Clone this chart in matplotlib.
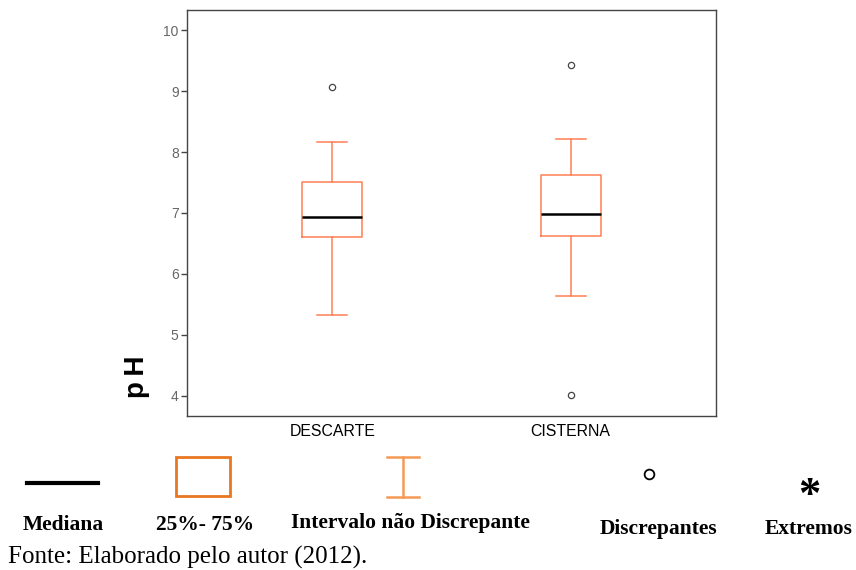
import matplotlib
matplotlib.use("Agg")
import matplotlib.pyplot as plt
from matplotlib.patches import Rectangle
from matplotlib.lines import Line2D

# valores (pH)
categorias = ["DESCARTE", "CISTERNA"]
q1 = [6.60, 6.62]
mediana = [6.93, 6.98]
q3 = [7.51, 7.62]
whisker_baixo = [5.32, 5.64]
whisker_alto = [8.17, 8.21]
discrepantes = [[9.07], [9.43, 4.02]]
y_ticks = [4, 5, 6, 7, 8, 9, 10]

legenda_textos = ["Mediana", "25%- 75%", "Intervalo não Discrepante", "Discrepantes", "Extremos"]
fonte = "Fonte: Elaborado pelo autor (2012)."

cor_caixa = "#FF7F55"


def main():
    fig = plt.figure(figsize=(8.56, 5.70), dpi=100)
    ax = fig.add_axes([187/856, 1-416/570, 529/856, 406/570])

    stats = []
    for i, nome in enumerate(categorias):
        stats.append(dict(label=nome, q1=q1[i], med=mediana[i], q3=q3[i],
                          whislo=whisker_baixo[i], whishi=whisker_alto[i],
                          fliers=discrepantes[i]))

    ax.bxp(stats, positions=[1, 2], widths=0.252, showfliers=True,
           boxprops=dict(color=cor_caixa, linewidth=1.1),
           whiskerprops=dict(color=cor_caixa, linewidth=1.1),
           capprops=dict(color=cor_caixa, linewidth=1.1),
           medianprops=dict(color="black", linewidth=1.8),
           flierprops=dict(marker="o", markersize=4.5, markerfacecolor="white",
                           markeredgecolor="#444444", markeredgewidth=0.9))

    ax.set_xlim(0.39, 2.61)
    ax.set_ylim(3.67, 10.33)
    ax.set_yticks(y_ticks)
    ax.set_yticklabels([str(t) for t in y_ticks], color="#666666",
                       fontsize=10, family="Liberation Sans")
    ax.set_xticks([1, 2])
    ax.set_xticklabels(categorias, fontsize=11.4, family="Liberation Sans")
    ax.tick_params(axis="x", length=0, pad=6)
    ax.tick_params(axis="y", length=4, width=1, color="#444444", pad=2)
    for s in ax.spines.values():
        s.set_color("#444444")
        s.set_linewidth(1.0)

    fig.text(137/856, 1-377/570, "p\u2009H", rotation=90, ha="center", va="center",
             fontsize=20, fontweight="bold", family="Liberation Sans")

    # legenda desenhada à parte, em coordenadas da figura
    W, H = 856, 570
    fig.add_artist(Line2D([27/W, 98/W], [1-483/H, 1-483/H], color="black", lw=3))
    fig.add_artist(Rectangle((176/W, 1-496/H), 54/W, 39/H, fill=False,
                             edgecolor="#E87722", lw=2))
    fig.add_artist(Line2D([403/W, 403/W], [1-457/H, 1-497/H], color="#F59A55", lw=1.8))
    fig.add_artist(Line2D([387/W, 419/W], [1-457/H, 1-457/H], color="#F59A55", lw=1.8))
    fig.add_artist(Line2D([387/W, 419/W], [1-497/H, 1-497/H], color="#F59A55", lw=1.8))
    fig.add_artist(Line2D([649/W], [1-474/H], marker="o", markersize=7,
                          markerfacecolor="white", markeredgecolor="black",
                          markeredgewidth=1.3, linestyle="none"))
    fig.text(809/W, 1-496/H, "*", ha="center", va="center", fontsize=32,
             fontweight="bold", family="Liberation Serif")

    pos_legenda = [(63, 525), (205, 525), (410, 523), (658, 529), (809, 529)]
    for txt, (x, y) in zip(legenda_textos, pos_legenda):
        fig.text(x/W, 1-y/H, txt, ha="center", va="center", fontsize=15.5,
                 fontweight="bold", family="Liberation Serif")

    fig.text(8/W, 1-557/H, fonte, ha="left", va="center", fontsize=18,
             family="Liberation Serif")

    fig.savefig("out.png", dpi=100)


if __name__ == "__main__":
    main()
